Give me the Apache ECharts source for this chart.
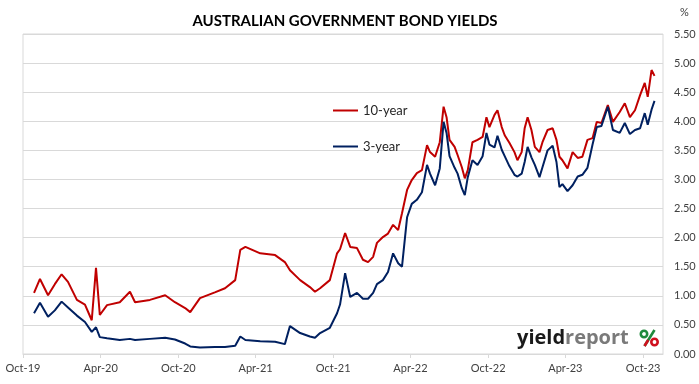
<!DOCTYPE html>
<html>
<head>
<meta charset="utf-8">
<script src="https://cdn.jsdelivr.net/npm/echarts@6/dist/echarts.min.js"></script>
<style>
html,body{margin:0;padding:0;background:#fff;}
#chart{width:699px;height:384px;}
</style>
</head>
<body>
<div id="chart"></div>
<script>
// ---- data ----
var dates = [
'2019-10-27','2019-11-10','2019-11-29','2019-12-15','2019-12-31','2020-01-15','2020-02-05','2020-02-24','2020-03-11','2020-03-21',
'2020-03-30','2020-04-16','2020-05-16','2020-06-09','2020-06-21','2020-07-26','2020-08-31','2020-09-23','2020-10-17','2020-10-29',
'2020-11-21','2020-12-26','2021-01-19','2021-02-12','2021-02-24','2021-03-08','2021-04-12','2021-05-17','2021-06-09','2021-06-21',
'2021-07-15','2021-08-07','2021-08-19','2021-08-31','2021-09-23','2021-10-10','2021-10-17','2021-10-29','2021-11-10','2021-11-26',
'2021-12-10','2021-12-22','2022-01-03','2022-01-12','2022-01-26','2022-02-07','2022-02-19','2022-03-03','2022-03-12','2022-03-24',
'2022-04-04','2022-04-16','2022-04-28','2022-05-10','2022-05-17','2022-05-29','2022-06-09','2022-06-18','2022-06-25','2022-07-02',
'2022-07-14','2022-07-21','2022-07-31','2022-08-07','2022-08-14','2022-08-25','2022-09-06','2022-09-18','2022-09-27','2022-10-04',
'2022-10-16','2022-10-23','2022-11-02','2022-11-09','2022-11-20','2022-12-02','2022-12-09','2022-12-19','2022-12-26','2023-01-02',
'2023-01-11','2023-01-19','2023-01-30','2023-02-06','2023-02-18','2023-03-02','2023-03-11','2023-03-18','2023-03-25','2023-04-06',
'2023-04-18','2023-04-30','2023-05-11','2023-05-23','2023-06-04','2023-06-14','2023-06-25','2023-07-10','2023-07-22','2023-08-07',
'2023-08-19','2023-08-31','2023-09-12','2023-09-24','2023-10-05','2023-10-12','2023-10-21','2023-10-28'
];
var tenYear = [
1.05,1.29,1.01,1.20,1.37,1.24,0.93,0.85,0.58,1.48,
0.67,0.84,0.89,1.07,0.89,0.93,1.01,0.89,0.79,0.72,
0.96,1.06,1.13,1.27,1.79,1.84,1.73,1.70,1.58,1.44,
1.27,1.15,1.07,1.13,1.27,1.73,1.80,2.08,1.84,1.82,
1.62,1.58,1.67,1.91,2.01,2.07,2.22,2.13,2.42,2.82,
2.99,3.11,3.16,3.59,3.47,3.39,3.64,4.25,4.07,3.68,
3.56,3.42,3.21,3.02,3.16,3.64,3.68,3.73,4.07,3.90,
4.11,4.19,3.90,3.76,3.63,3.47,3.33,3.47,3.88,4.07,
3.85,3.56,3.47,3.64,3.85,3.88,3.68,3.39,3.33,3.19,
3.47,3.37,3.39,3.68,3.71,3.99,3.97,4.28,3.99,4.16,
4.31,4.07,4.19,4.45,4.66,4.42,4.88,4.78
];
var threeYear = [
0.70,0.88,0.64,0.75,0.90,0.80,0.66,0.55,0.38,0.46,
0.29,0.27,0.24,0.26,0.24,0.26,0.28,0.25,0.18,0.13,
0.11,0.12,0.12,0.14,0.30,0.24,0.22,0.21,0.17,0.48,
0.36,0.30,0.28,0.36,0.45,0.70,0.85,1.39,0.98,1.05,
0.95,0.95,1.05,1.20,1.27,1.41,1.73,1.56,1.50,2.35,
2.58,2.65,2.78,3.25,3.10,2.90,3.19,3.99,3.80,3.40,
3.20,3.10,2.85,2.73,3.04,3.33,3.25,3.40,3.80,3.60,
3.55,3.75,3.51,3.40,3.23,3.08,3.05,3.10,3.30,3.56,
3.38,3.25,3.04,3.21,3.50,3.58,3.30,2.87,2.92,2.80,
2.90,3.05,3.08,3.20,3.60,3.90,3.92,4.25,3.85,3.80,
3.97,3.78,3.85,3.88,4.14,3.94,4.20,4.35
];
var tickDates = ['2019-10-01','2020-04-01','2020-10-01','2021-04-01','2021-10-01','2022-04-01','2022-10-01','2023-04-01','2023-10-01'];
var tickLabels = ['Oct-19','Apr-20','Oct-20','Apr-21','Oct-21','Apr-22','Oct-22','Apr-23','Oct-23'];
var seriesNames = ['10-year','3-year'];

function ts(s){ var p = s.split('-'); return Date.UTC(+p[0], +p[1]-1, +p[2]); }
var tickTs = tickDates.map(ts);
function pairs(vals){ return dates.map(function(d,i){ return [ts(d), vals[i]]; }); }

var chart = echarts.init(document.getElementById('chart'), null, {renderer:'canvas'});
var font = 'Lato, "Open Sans", sans-serif';
var green = '#1e8a3c', red = '#d0101e';
chart.setOption({
  animation:false,
  backgroundColor:'#ffffff',
  title:{
    text:'AUSTRALIAN GOVERNMENT BOND YIELDS',
    left:340, top:9, textAlign:'center',
    textStyle:{fontFamily:font, fontSize:15, fontWeight:'bold', color:'#000'}
  },
  legend:{
    orient:'vertical', left:328, top:99, itemGap:23,
    itemWidth:25, itemHeight:2, icon:'rect',
    textStyle:{fontFamily:font, fontSize:13, color:'#262626'},
    data:seriesNames
  },
  grid:{left:23, right:36, top:34, bottom:30, show:true, borderColor:'#d9d9d9', borderWidth:1},
  xAxis:{
    type:'value', min:ts('2019-10-01'), max:ts('2023-11-17'),
    axisLine:{show:true, lineStyle:{color:'#d9d9d9'}},
    axisTick:{show:true, customValues:tickTs, length:4, lineStyle:{color:'#d9d9d9'}},
    splitLine:{show:false},
    axisLabel:{
      customValues:tickTs, margin:9, hideOverlap:false, showMinLabel:true, showMaxLabel:true,
      fontFamily:font, fontSize:11, color:'#404040',
      formatter:function(v){ var i = tickTs.indexOf(v); return i>=0 ? tickLabels[i] : ''; }
    }
  },
  yAxis:{
    type:'value', position:'right', min:0, max:5.5, interval:0.5,
    axisLine:{show:false}, axisTick:{show:false},
    splitLine:{lineStyle:{color:'#d9d9d9'}},
    axisLabel:{margin:11, fontFamily:font, fontSize:11, color:'#404040',
      formatter:function(v){ return v.toFixed(2); }}
  },
  graphic:[
    {type:'text', left:680, top:7, style:{text:'%', font:'11px '+font, fill:'#404040'}},
    {type:'text', x:517, y:338, style:{
      text:'{a|yield}{b|report}', verticalAlign:'middle',
      rich:{
        a:{fontFamily:'"Open Sans", sans-serif', fontSize:20, fontWeight:'bold', fill:'#1a1a1a'},
        b:{fontFamily:'"Open Sans", sans-serif', fontSize:20, fontWeight:'bold', fill:'#7a7a7a'}
      }
    }},
    {type:'group', x:640, y:330, children:[
      {type:'circle', shape:{cx:4, cy:4, r:3.2}, style:{fill:'none', stroke:green, lineWidth:2.6}},
      {type:'line', shape:{x1:14.5, y1:0, x2:4.5, y2:16}, style:{stroke:green, lineWidth:2.6}},
      {type:'line', shape:{x1:8.2, y1:10, x2:4.5, y2:16}, style:{stroke:red, lineWidth:2.6}},
      {type:'circle', shape:{cx:14.5, cy:12, r:3.2}, style:{fill:'none', stroke:red, lineWidth:2.6}}
    ]}
  ],
  series:[
    {name:seriesNames[0], type:'line', data:pairs(tenYear), showSymbol:false, symbol:'none',
      lineStyle:{color:'#c00000', width:2}, itemStyle:{color:'#c00000'}},
    {name:seriesNames[1], type:'line', data:pairs(threeYear), showSymbol:false, symbol:'none',
      lineStyle:{color:'#002060', width:2}, itemStyle:{color:'#002060'}}
  ]
});
</script>
</body>
</html>
